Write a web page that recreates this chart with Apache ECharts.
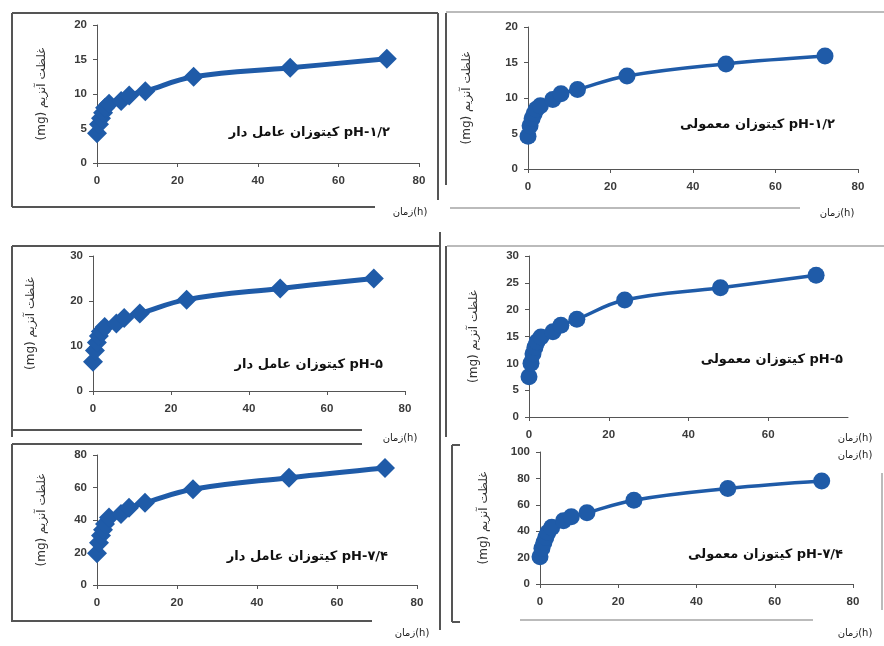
<!DOCTYPE html>
<html>
<head>
<meta charset="utf-8">
<script src="https://cdn.jsdelivr.net/npm/echarts@6/dist/echarts.min.js"></script>
<style>
  html, body { margin: 0; padding: 0; background: #fff; }
  #chart { width: 884px; height: 646px; }
</style>
</head>
<body>
<div id="chart"></div>
<script>
// زمان (h)
var times = [0, 0.5, 1, 1.5, 2, 3, 6, 8, 12, 24, 48, 72];

// غلظت آنزیم (mg)
var func12 = [4.3, 5.6, 6.5, 7.3, 8.0, 8.6, 9.0, 9.8, 10.4, 12.5, 13.8, 15.1];
var plain12 = [4.6, 6.1, 7.1, 7.8, 8.4, 8.9, 9.8, 10.6, 11.2, 13.1, 14.8, 15.9];
var func5 = [6.5, 9.0, 10.8, 12.2, 13.2, 14.2, 15.0, 16.2, 17.2, 20.3, 22.8, 25.0];
var plain5 = [7.5, 10.0, 11.8, 13.0, 14.0, 14.9, 15.9, 17.1, 18.2, 21.8, 24.1, 26.4];
var func74 = [19.5, 26, 30.5, 34, 37.5, 41.5, 43.7, 47.5, 50.6, 58.9, 66, 72];
var plain74 = [20.6, 27, 31.5, 35.5, 39, 42.9, 47.9, 50.9, 53.9, 63.5, 72.3, 78];

var panelLabels = ['کیتوزان عامل دار pH-۱/۲', 'کیتوزان معمولی pH-۱/۲',
                   'کیتوزان عامل دار pH-۵', 'کیتوزان معمولی pH-۵',
                   'کیتوزان عامل دار pH-۷/۴', 'کیتوزان معمولی pH-۷/۴'];
var yMax = [20, 20, 30, 30, 80, 100];
var yStep = [5, 5, 10, 5, 20, 20];

var chart = echarts.init(document.getElementById('chart'));
var blue = '#1f5ba8';
var axisColor = '#555';
var txtFont = 'DejaVu Sans, Liberation Sans, sans-serif';

// جای شش نمودار
var grids = [
    {left: 97, top: 25, width: 322, height: 138},
    {left: 528, top: 27, width: 330, height: 142},
    {left: 93, top: 256, width: 312, height: 135},
    {left: 529, top: 256, width: 319, height: 161},
    {left: 97, top: 455, width: 320, height: 130},
    {left: 540, top: 452, width: 313, height: 132}
];
var nameGaps = [49, 55, 56, 49, 49, 50];
var seriesData = [func12, plain12, func5, plain5, func74, plain74];

var xAxes = [], yAxes = [], series = [];
grids.forEach(function (g, i) {
    var diamond = (i % 2 === 0);
    xAxes.push({
        type: 'value', gridIndex: i, min: 0, max: 80, interval: 20,
        splitLine: {show: false},
        axisLine: {lineStyle: {color: axisColor, width: 1}},
        axisTick: {show: true, length: 4, lineStyle: {color: axisColor}},
        axisLabel: {color: '#3a3a3a', fontSize: 11.5, fontWeight: 'bold', fontFamily: 'Liberation Sans', margin: 12,
                    showMaxLabel: i !== 3}
    });
    yAxes.push({
        type: 'value', gridIndex: i, min: 0, max: yMax[i], interval: yStep[i],
        splitLine: {show: false},
        axisLine: {show: true, lineStyle: {color: axisColor, width: 1}},
        axisTick: {show: true, length: 4, lineStyle: {color: axisColor}},
        axisLabel: {color: '#3a3a3a', fontSize: 11.5, fontWeight: 'bold', fontFamily: 'Liberation Sans', margin: 10},
        name: '(mg) غلظت آنزیم',
        nameLocation: 'middle', nameRotate: 90, nameGap: nameGaps[i],
        nameTextStyle: {color: '#333', fontSize: 12, fontFamily: txtFont}
    });
    series.push({
        type: 'line', xAxisIndex: i, yAxisIndex: i,
        data: times.map(function (t, k) { return [t, seriesData[i][k]]; }),
        smooth: 0.4,
        symbol: diamond ? 'diamond' : 'circle',
        symbolSize: diamond ? 20 : 17,
        lineStyle: {color: blue, width: diamond ? 5 : 3.5},
        itemStyle: {color: blue},
        z: 3
    });
});

var dark = {stroke: '#555', lineWidth: 2};
var light = {stroke: '#bbb', lineWidth: 2};
function seg(x1, y1, x2, y2, style) {
    return {type: 'line', shape: {x1: x1, y1: y1, x2: x2, y2: y2}, style: style, silent: true};
}
var graphics = [
    // قاب‌ها
    seg(12, 13, 12, 207, dark), seg(12, 13, 438, 13, dark), seg(438, 13, 438, 200, dark), seg(12, 207, 375, 207, dark),
    seg(446, 12, 884, 12, light), seg(446, 13, 446, 185, dark), seg(450, 208, 800, 208, light),
    seg(12, 246, 440, 246, dark), seg(12, 246, 12, 437, dark), seg(12, 430, 362, 430, dark), seg(440, 232, 440, 440, dark),
    seg(447, 246, 884, 246, light), seg(446, 246, 446, 437, dark),
    seg(12, 444, 362, 444, dark), seg(12, 444, 12, 622, dark), seg(12, 621, 372, 621, dark), seg(440, 440, 440, 630, dark),
    seg(452, 445, 452, 622, dark), seg(452, 445, 460, 445, dark), seg(452, 622, 460, 622, dark),
    seg(520, 620, 813, 620, light), seg(882, 473, 882, 610, light)
];
var labelPos = [[390, 133], [835, 125], [383, 365], [843, 360], [388, 557], [843, 555]];
labelPos.forEach(function (p, i) {
    graphics.push({
        type: 'text', x: p[0], y: p[1],
        style: {text: panelLabels[i], fill: '#111', font: 'bold 13px ' + txtFont,
                align: 'right', verticalAlign: 'middle'}
    });
});
var timePos = [[410, 212], [837, 213], [400, 438], [855, 438], [412, 633], [855, 633], [855, 455]];
timePos.forEach(function (p) {
    graphics.push({
        type: 'text', x: p[0], y: p[1],
        style: {text: 'زمان(h)', fill: '#222', font: '10px ' + txtFont,
                align: 'center', verticalAlign: 'middle'}
    });
});

chart.setOption({
    backgroundColor: '#fff',
    animation: false,
    grid: grids,
    xAxis: xAxes,
    yAxis: yAxes,
    series: series,
    graphic: graphics
});
</script>
</body>
</html>
